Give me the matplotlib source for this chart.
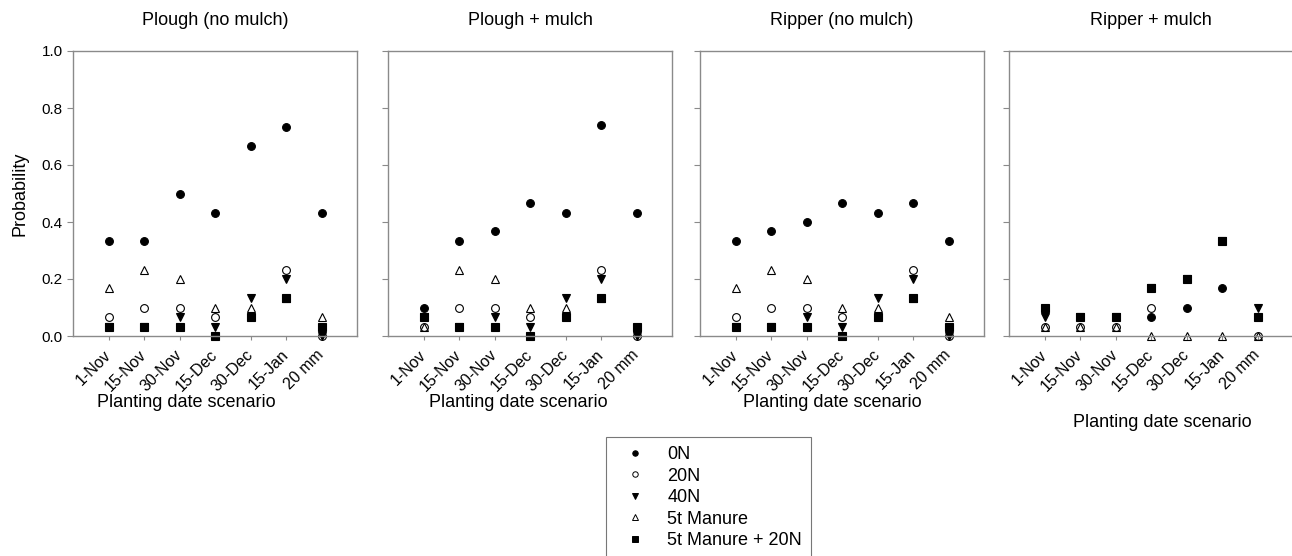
import matplotlib
matplotlib.use('Agg')
import matplotlib.pyplot as plt
from matplotlib.lines import Line2D

plt.rcParams['font.family'] = ['Liberation Sans', 'DejaVu Sans']

dates = ['1-Nov', '15-Nov', '30-Nov', '15-Dec', '30-Dec', '15-Jan', '20 mm']
treatments = ['0N', '20N', '40N', '5t Manure', '5t Manure + 20N']
titles = ['Plough (no mulch)', 'Plough + mulch', 'Ripper (no mulch)', 'Ripper + mulch']

# probability, one row per treatment, one column per planting date
plough_no_mulch = [
    [0.333, 0.333, 0.500, 0.433, 0.667, 0.733, 0.433],
    [0.067, 0.100, 0.100, 0.067, 0.067, 0.233, 0.000],
    [0.033, 0.033, 0.067, 0.033, 0.133, 0.200, 0.000],
    [0.167, 0.233, 0.200, 0.100, 0.100, 0.133, 0.067],
    [0.033, 0.033, 0.033, 0.000, 0.067, 0.133, 0.033],
]
plough_mulch = [
    [0.100, 0.333, 0.367, 0.467, 0.433, 0.740, 0.433],
    [0.033, 0.100, 0.100, 0.067, 0.067, 0.233, 0.000],
    [0.067, 0.033, 0.067, 0.033, 0.133, 0.200, 0.000],
    [0.033, 0.233, 0.200, 0.100, 0.100, 0.133, 0.033],
    [0.067, 0.033, 0.033, 0.000, 0.067, 0.133, 0.033],
]
ripper_no_mulch = [
    [0.333, 0.367, 0.400, 0.467, 0.433, 0.467, 0.333],
    [0.067, 0.100, 0.100, 0.067, 0.067, 0.233, 0.000],
    [0.033, 0.033, 0.067, 0.033, 0.133, 0.200, 0.000],
    [0.167, 0.233, 0.200, 0.100, 0.100, 0.133, 0.067],
    [0.033, 0.033, 0.033, 0.000, 0.067, 0.133, 0.033],
]
ripper_mulch = [
    [0.100, 0.067, 0.067, 0.067, 0.100, 0.167, 0.067],
    [0.033, 0.033, 0.033, 0.100, 0.200, 0.333, 0.000],
    [0.067, 0.067, 0.067, 0.167, 0.200, 0.333, 0.100],
    [0.033, 0.033, 0.033, 0.000, 0.000, 0.000, 0.000],
    [0.100, 0.067, 0.067, 0.167, 0.200, 0.333, 0.067],
]
panels = [plough_no_mulch, plough_mulch, ripper_no_mulch, ripper_mulch]

# marker, size, filled
styles = [('o', 5.6, True), ('o', 5.6, False), ('v', 5.2, True),
          ('^', 5.2, False), ('s', 5.2, True)]

W, H = 1292, 556
fig = plt.figure(figsize=(W / 100, H / 100), dpi=100)

lefts = [73, 388, 700, 1009]
top, bottom = 51, 336
width = 284
xlabel_pos = [(0.40, -0.235), (0.46, -0.235), (0.465, -0.235), (0.54, -0.305)]

x = list(range(1, len(dates) + 1))
grey = '#8a8a8a'

for i, data in enumerate(panels):
    ax = fig.add_axes([lefts[i] / W, 1 - bottom / H, width / W, (bottom - top) / H])
    for row, (m, ms, filled) in zip(data, styles):
        ax.plot(x, row, linestyle='none', marker=m, markersize=ms,
                markerfacecolor='black' if filled else 'none',
                markeredgecolor='black', markeredgewidth=0.8, clip_on=False)

    ax.set_xlim(0, 8)
    ax.set_ylim(0, 1.0)
    ax.set_xticks(x)
    ax.set_xticklabels(dates, rotation=45, ha='right', va='center',
                       rotation_mode='anchor', fontsize=11.5)
    ax.set_yticks([0, 0.2, 0.4, 0.6, 0.8, 1.0])
    if i == 0:
        ax.set_yticklabels(['0.0', '0.2', '0.4', '0.6', '0.8', '1.0'], fontsize=11)
        ax.set_ylabel('Probability', fontsize=13)
        ax.yaxis.set_label_coords(-0.158, 0.5)
    else:
        ax.set_yticklabels([])
    ax.tick_params(axis='both', direction='out', length=4, width=0.8, color=grey)
    ax.tick_params(axis='x', length=3, pad=9)
    for s in ax.spines.values():
        s.set_color(grey)
        s.set_linewidth(1.0)

    ax.set_title(titles[i], fontsize=13, pad=19)
    ax.set_xlabel('Planting date scenario', fontsize=13)
    ax.xaxis.label.set_verticalalignment('center')
    ax.xaxis.set_label_coords(*xlabel_pos[i])

handles = [Line2D([], [], linestyle='none', marker=m, markersize=ms * 0.7,
                  markerfacecolor='black' if filled else 'none',
                  markeredgecolor='black', markeredgewidth=0.7)
           for m, ms, filled in styles]
leg = fig.legend(handles, treatments, loc='upper left',
                 bbox_to_anchor=(606 / W, 1 - 437 / H), fontsize=13,
                 frameon=True, fancybox=False, borderpad=0.5, labelspacing=0.25,
                 handlelength=2.2, handletextpad=0.7, borderaxespad=0)
leg.get_frame().set_edgecolor('#555555')
leg.get_frame().set_linewidth(0.8)

fig.savefig('out.png', dpi=100)
